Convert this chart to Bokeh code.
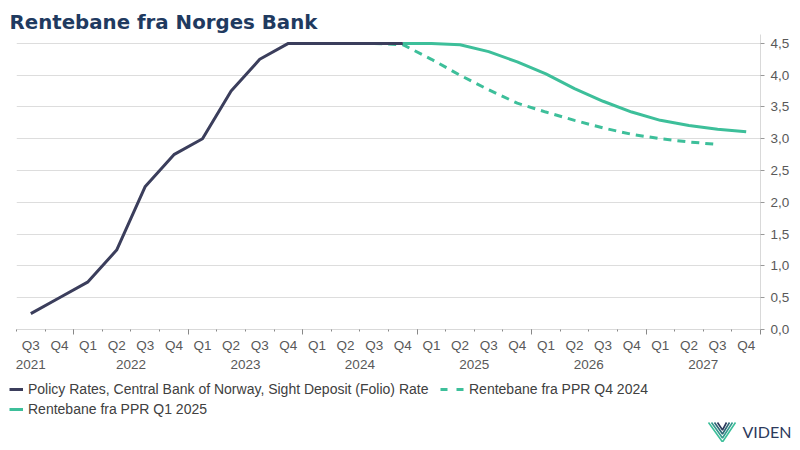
import math
from bokeh.plotting import figure
from bokeh.models import Range1d, LinearAxis, FixedTicker, Legend, LegendItem
from bokeh.layouts import column, row
from bokeh.embed import file_html
from bokeh.resources import INLINE
from bokeh.core.properties import value

# ---------------- data ----------------
quarters = ["Q3", "Q4"] + ["Q1", "Q2", "Q3", "Q4"] * 6
years = [2021] * 2 + [2022] * 4 + [2023] * 4 + [2024] * 4 + [2025] * 4 + [2026] * 4 + [2027] * 4

policy_rate = [0.25, 0.5, 0.75, 1.25, 2.25, 2.75, 3.0, 3.75, 4.25, 4.5, 4.5, 4.5, 4.5, 4.5] + [None] * 12
ppr_q4_2024 = [None] * 12 + [4.5, 4.48, 4.25, 4.0, 3.77, 3.56, 3.42, 3.29, 3.17, 3.07, 3.0, 2.95, 2.91] + [None]
ppr_q1_2025 = [None] * 13 + [4.5, 4.5, 4.48, 4.37, 4.21, 4.02, 3.79, 3.59, 3.42, 3.29, 3.21, 3.15, 3.11]

series_labels = [
    "Policy Rates, Central Bank of Norway, Sight Deposit (Folio) Rate",
    "Rentebane fra PPR Q4 2024",
    "Rentebane fra PPR Q1 2025",
]
y_ticks = [0.0, 0.5, 1.0, 1.5, 2.0, 2.5, 3.0, 3.5, 4.0, 4.5]
title_text = "Rentebane fra Norges Bank"
brand_text = "VIDEN"

# ---------------- styles ----------------
NAVY = "#3b3e5c"
GREEN = "#3dbf9a"
TXT = "#595959"
FONT = "Liberation Sans"
AX_FS = "13.5px"


def nanify(vals):
    return [float("nan") if v is None else v for v in vals]


n = len(quarters)
xi = list(range(n))

BL, BR = 8, 30  # left / right borders of the plotting frame

p = figure(width=784, height=366, x_range=Range1d(-0.5, n - 0.5), y_range=Range1d(0, 4.64),
           x_axis_location=None, y_axis_location="right",
           output_backend="svg", toolbar_location=None,
           min_border_left=BL, min_border_right=BR, min_border_top=25, min_border_bottom=45)
p.outline_line_color = None
p.background_fill_color = "white"
p.border_fill_color = "white"

p.title.text = title_text
p.title.align = "left"
p.title.text_font = "DejaVu Sans"
p.title.text_font_style = "bold"
p.title.text_font_size = "19.8px"
p.title.text_color = "#1f3a60"
p.title.offset = -7
p.title.standoff = 1

# grid
p.xgrid.visible = False
p.ygrid.grid_line_color = "#dddddd"
p.ygrid.grid_line_width = 1

# right y axis
ya = p.yaxis[0]
ya.ticker = FixedTicker(ticks=y_ticks)
ya.major_label_overrides = {t: f"{t:.1f}".replace(".", ",") for t in y_ticks}
ya.axis_line_color = "#d9d9d9"
ya.major_tick_line_color = "#999999"
ya.major_tick_out = 4
ya.major_tick_in = 0
ya.minor_tick_line_color = None
ya.major_label_standoff = 6
ya.major_label_text_font = FONT
ya.major_label_text_font_size = AX_FS
ya.major_label_text_color = TXT

# x axes: boundary ticks, quarter labels, year labels
bounds = [i - 0.5 for i in range(n + 1)]
year_bounds = [bounds[k] for k in range(1, n + 1) if k == n or years[k] != years[k - 1]]

ax_ticks = LinearAxis(ticker=FixedTicker(ticks=year_bounds, minor_ticks=bounds))
ax_ticks.axis_line_color = "#d9d9d9"
ax_ticks.major_tick_line_color = "#888888"
ax_ticks.minor_tick_line_color = "#888888"
ax_ticks.major_tick_out = 5
ax_ticks.major_tick_in = 0
ax_ticks.minor_tick_out = 2
ax_ticks.minor_tick_in = 0
ax_ticks.major_label_text_font_size = "0px"
ax_ticks.major_label_text_alpha = 0
ax_ticks.major_label_standoff = 0

ax_q = LinearAxis(ticker=FixedTicker(ticks=xi))
ax_q.major_label_overrides = {i: q for i, q in zip(xi, quarters)}
ax_q.axis_line_color = None
ax_q.major_tick_line_color = None
ax_q.minor_tick_line_color = None
ax_q.major_tick_out = 0
ax_q.major_tick_in = 0
ax_q.major_label_standoff = 3
ax_q.major_label_text_font = FONT
ax_q.major_label_text_font_size = AX_FS
ax_q.major_label_text_color = TXT

uniq_years = sorted(set(years))
year_pos = []
for yv in uniq_years:
    idx = [i for i, yy in enumerate(years) if yy == yv]
    year_pos.append(sum(idx) / len(idx) if len(idx) == 4 else float(idx[0]))
ax_y = LinearAxis(ticker=FixedTicker(ticks=year_pos))
ax_y.major_label_overrides = {pos: str(yv) for pos, yv in zip(year_pos, uniq_years)}
ax_y.axis_line_color = None
ax_y.major_tick_line_color = None
ax_y.minor_tick_line_color = None
ax_y.major_tick_out = 0
ax_y.major_tick_in = 0
ax_y.major_label_standoff = 4
ax_y.major_label_text_font = FONT
ax_y.major_label_text_font_size = AX_FS
ax_y.major_label_text_color = TXT

p.add_layout(ax_ticks, "below")
p.add_layout(ax_q, "below")
p.add_layout(ax_y, "below")

# lines
p.line(xi, nanify(ppr_q4_2024), line_color=GREEN, line_width=3, line_dash="8 6")
p.line(xi, nanify(ppr_q1_2025), line_color=GREEN, line_width=3)
p.line(xi, nanify(policy_rate), line_color=NAVY, line_width=3)

# ---------------- legend + logo panel (full-width frame, data x == pixel x) ----------------
H2 = 68
p2 = figure(width=784, height=H2, x_range=Range1d(0, 784), y_range=Range1d(0, H2),
            x_axis_location=None, y_axis_location=None,
            output_backend="svg", toolbar_location=None,
            min_border_left=0, min_border_right=0, min_border_top=0, min_border_bottom=0)
p2.outline_line_color = None
p2.xgrid.visible = False
p2.ygrid.visible = False
p2.title.visible = False

# legend renderers (kept outside the visible range)
r1 = p2.line([-100, -90], [-100, -100], line_color=NAVY, line_width=3)
r2 = p2.line([-100, -90], [-100, -100], line_color=GREEN, line_width=3, line_dash="7 9")
r3 = p2.line([-100, -90], [-100, -100], line_color=GREEN, line_width=3)


def make_legend(label, rend, loc, gw):
    lg = Legend(items=[LegendItem(label=label, renderers=[rend])], location=loc,
                orientation="horizontal", glyph_width=gw, glyph_height=16, label_height=16,
                label_standoff=5, padding=0, margin=0, spacing=0,
                border_line_color=None, background_fill_alpha=0,
                label_text_font=FONT, label_text_font_size="14px", label_text_color="#404040")
    p2.add_layout(lg, "center")


make_legend(series_labels[0], r1, (1, 45), 14)
make_legend(series_labels[1], r2, (432, 45), 24)
make_legend(series_labels[2], r3, (1, 25), 14)

# logo (decoration): chevron mark + brand word
logo_xs = [[700, 714, 727], [703, 714, 724], [706, 714, 721], [709, 714, 718]]
logo_ys = [[20, 0.5, 20], [20, 4.5, 20], [20, 8.5, 20], [20, 12.5, 20]]
logo_cols = ["#3dbf9a", "#35998d", "#2f6876", "#2d3a5c"]
p2.multi_line(logo_xs, logo_ys, line_color=logo_cols, line_width=1.6)
p2.text(x=[734], y=[11], text=[brand_text], text_font=value("Lato"), text_font_size="16px",
        text_color="#2d3a5c", text_baseline="middle", text_align="left")

layout = column(p, row(p2), spacing=0, margin=(8, 8, 8, 8))
open("out.html", "w").write(file_html(layout, INLINE))
